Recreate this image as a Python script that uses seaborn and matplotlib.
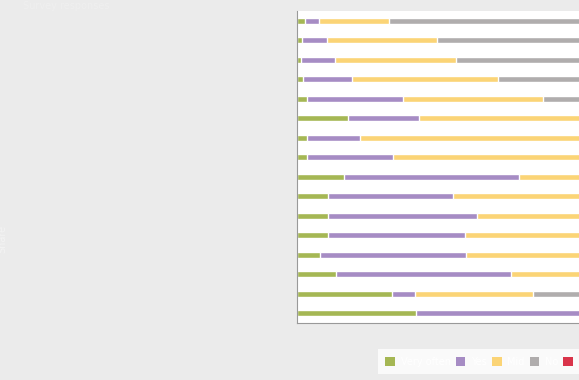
import numpy as np
import pandas as pd
import matplotlib
matplotlib.use("Agg")
import matplotlib.pyplot as plt
import seaborn as sns
from matplotlib.patches import Patch

# data (percent of each row)
items = ["Item 1", "Item 2", "Item 3", "Item 4", "Item 5", "Item 6", "Item 7", "Item 8",
         "Item 9", "Item 10", "Item 11", "Item 12", "Item 13", "Item 14", "Item 15", "Item 16"]
series = ["Very often", "Yes", "Mid", "No", "N/A"]
green = [2.4, 1.5, 1.3, 1.7, 2.8, 15.1, 2.8, 2.8, 13.8, 9.2, 9.2, 9.2, 6.8, 11.5, 28.0, 35.0]
purple = [4.0, 7.3, 9.9, 14.6, 28.5, 20.8, 15.6, 25.5, 51.6, 36.7, 43.8, 40.3, 42.9, 51.5, 6.8, 65.0]
yellow = [20.8, 32.5, 35.5, 42.7, 41.1, 64.1, 81.6, 71.7, 34.6, 54.1, 47.0, 50.5, 50.3, 37.0, 34.7, 0.0]
grey = [72.8, 58.7, 53.3, 41.0, 27.6, 0.0, 0.0, 0.0, 0.0, 0.0, 0.0, 0.0, 0.0, 0.0, 30.5, 0.0]
red = [0.0, 0.0, 0.0, 0.0, 0.0, 0.0, 0.0, 0.0, 0.0, 0.0, 0.0, 0.0, 0.0, 0.0, 0.0, 0.0]

colors = ["#a5b754", "#a68cc4", "#fbd476", "#b0adad", "#d9344a"]
bg = "#ebebeb"

df = pd.DataFrame({"item": items, "g": green, "p": purple, "y": yellow, "gr": grey, "r": red})
cols = ["g", "p", "y", "gr", "r"]
cum = df[cols].cumsum(axis=1)
cum["item"] = df["item"]

sns.set_style("white")
fig = plt.figure(figsize=(5.79, 3.80), dpi=100, facecolor=bg)
# plot area runs past the right edge of the image, as in the reference
ax = fig.add_axes([297 / 579, (380 - 323) / 380, 340 / 579, 312 / 380])
ax.set_facecolor("white")

# stacked bars: draw the running totals from the longest back to the shortest
for col, c in zip(cols[::-1], colors[::-1]):
    sns.barplot(data=cum, y="item", x=col, orient="h", color=c, width=0.3,
                saturation=1, ax=ax, order=items)

ax.set_xlim(0, 100)
ax.set_ylim(15.5, -0.5)
ax.set_xticks([0, 20, 40, 60, 80, 100])
ax.set_xticklabels(["0%", "20%", "40%", "60%", "80%", "100%"], color=bg, fontsize=8)
ax.set_yticks(range(len(items)))
ax.set_yticklabels(items, color=bg, fontsize=8)
ax.set_yticks(np.arange(-0.5, len(items), 1), minor=True)
ax.tick_params(axis="y", which="major", length=0)
ax.tick_params(axis="y", which="minor", length=5, color="#999999", width=0.8, direction="out")
ax.tick_params(axis="x", length=4, color="#999999", width=0.8, direction="out")
ax.set_xlabel("")
ax.set_ylabel("")
for s in ["top", "right"]:
    ax.spines[s].set_visible(False)
for s in ["left", "bottom"]:
    ax.spines[s].set_color("#999999")
    ax.spines[s].set_linewidth(0.8)

# title and side note are drawn almost in the background colour, as in the reference
fig.text(0.04, 0.998, "Survey responses", color="#efefef", fontsize=7, va="top")
fig.text(-0.004, 0.37, "Share", color="#f3f3f3", fontsize=7, rotation=90, va="center")

handles = [Patch(facecolor=c, edgecolor="none") for c in colors]
leg = fig.legend(handles, series,
                 loc="lower left", bbox_to_anchor=(378 / 579, 6 / 380), ncol=5,
                 fontsize=7, handlelength=1.0, handleheight=1.0, handletextpad=0.6,
                 columnspacing=0.5, borderpad=0.75, borderaxespad=0,
                 frameon=True, fancybox=False)
leg.get_frame().set_facecolor("white")
leg.get_frame().set_edgecolor("none")
for t in leg.get_texts():
    t.set_color("white")

fig.savefig("out.png", dpi=100, facecolor=bg)
